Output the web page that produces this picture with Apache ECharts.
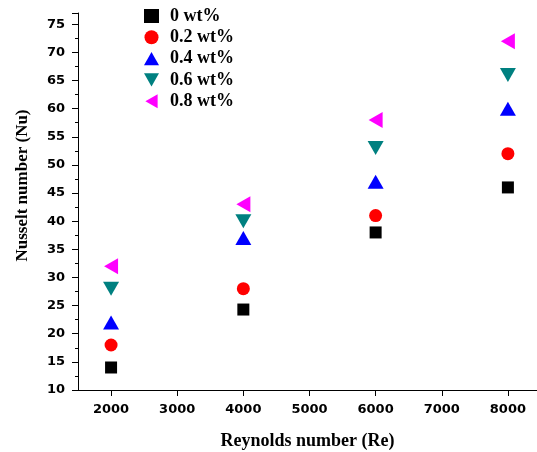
<!DOCTYPE html>
<html>
<head>
<meta charset="utf-8">
<script src="https://cdn.jsdelivr.net/npm/echarts@6/dist/echarts.min.js"></script>
<style>
  html, body { margin: 0; padding: 0; background: #fff; }
  #main { width: 537px; height: 452px; }
</style>
</head>
<body>
<div id="main"></div>
<script>
var reynolds = [2000, 4000, 6000, 8000];
var xTicks = [2000, 3000, 4000, 5000, 6000, 7000, 8000];
var nu0 = [14, 24.3, 38, 46];
var nu02 = [18, 28, 41, 52];
var nu04 = [22, 37, 47, 60];
var nu06 = [28, 40, 53, 66];
var nu08 = [32, 43, 58, 72];
var seriesNames = ["0 wt%", "0.2 wt%", "0.4 wt%", "0.6 wt%", "0.8 wt%"];

// marker shapes
var triUp = "path://M8,0L16,14L0,14Z";
var triDown = "path://M0,0L16,0L8,14Z";
var triLeft = "path://M14,0L14,16L0,8Z";

function pairs(vals) {
  return reynolds.map(function (re, i) { return [re, vals[i]]; });
}

var chart = echarts.init(document.getElementById("main"));
var labelFont = { color: "#000", fontFamily: "DejaVu Sans", fontWeight: "bold", fontSize: 13 };

var option = {
  animation: false,
  legend: {
    orient: "vertical",
    left: 144,
    top: 7,
    padding: 0,
    itemGap: 3.3,
    itemWidth: 15,
    itemHeight: 14,
    data: [
      { name: seriesNames[0], icon: "rect" },
      { name: seriesNames[1], icon: "circle" },
      { name: seriesNames[2], icon: triUp },
      { name: seriesNames[3], icon: triDown },
      { name: seriesNames[4], icon: triLeft }
    ],
    textStyle: { color: "#000", fontFamily: "Liberation Serif", fontWeight: "bold", fontSize: 18, lineHeight: 18, padding: [0, 0, 0, 6] }
  },
  grid: { left: 78, right: 0, top: 13, bottom: 62, outerBoundsMode: "none", containLabel: false },
  xAxis: {
    type: "value",
    min: 1500,
    max: 8440,
    interval: 1000,
    name: "Reynolds number (Re)",
    nameLocation: "middle",
    nameGap: 42,
    nameTextStyle: { color: "#000", fontFamily: "Liberation Serif", fontWeight: "bold", fontSize: 18 },
    splitLine: { show: false },
    axisLine: { lineStyle: { color: "#000", width: 1 } },
    axisTick: { length: 6, lineStyle: { color: "#000" }, customValues: xTicks },
    minorTick: { show: true, splitNumber: 2, length: 3, lineStyle: { color: "#000" } },
    axisLabel: Object.assign({ margin: 13, customValues: xTicks, formatter: function (v) { return String(v); } }, labelFont)
  },
  yAxis: {
    type: "value",
    min: 10,
    max: 77,
    interval: 5,
    name: "Nusselt number (Nu)",
    nameLocation: "middle",
    nameGap: 47,
    nameTextStyle: { color: "#000", fontFamily: "Liberation Serif", fontWeight: "bold", fontSize: 17, padding: [0, 0, 0, 32] },
    splitLine: { show: false },
    axisLine: { lineStyle: { color: "#000", width: 1 } },
    axisTick: { length: 6, lineStyle: { color: "#000" } },
    minorTick: { show: true, splitNumber: 2, length: 3, lineStyle: { color: "#000" } },
    axisLabel: Object.assign({ margin: 13, showMaxLabel: false }, labelFont)
  },
  series: [
    { name: seriesNames[0], type: "scatter", symbol: "rect", symbolSize: 12, itemStyle: { color: "#000000", opacity: 1 }, data: pairs(nu0) },
    { name: seriesNames[1], type: "scatter", symbol: "circle", symbolSize: 13, itemStyle: { color: "#ff0000", opacity: 1 }, data: pairs(nu02) },
    { name: seriesNames[2], type: "scatter", symbol: triUp, symbolSize: [16, 14], itemStyle: { color: "#0000ff", opacity: 1 }, data: pairs(nu04) },
    { name: seriesNames[3], type: "scatter", symbol: triDown, symbolSize: [16, 14], itemStyle: { color: "#008080", opacity: 1 }, data: pairs(nu06) },
    { name: seriesNames[4], type: "scatter", symbol: triLeft, symbolSize: [14, 16], itemStyle: { color: "#ff00ff", opacity: 1 }, data: pairs(nu08) }
  ]
};
chart.setOption(option);
</script>
</body>
</html>
